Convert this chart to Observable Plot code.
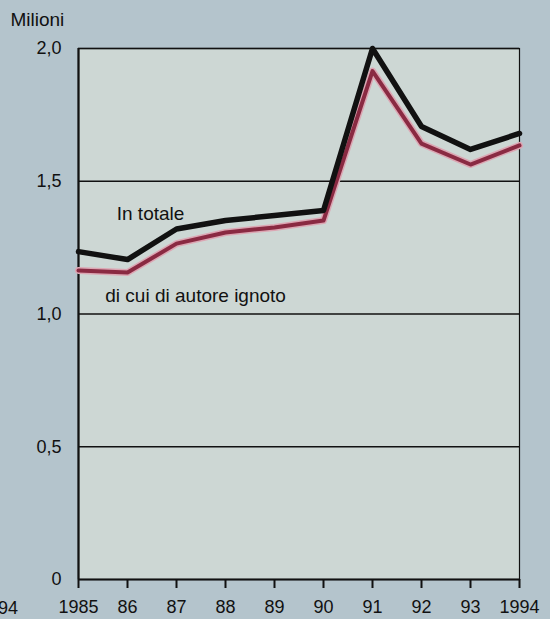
<!DOCTYPE html>
<html>
<head>
<meta charset="utf-8">
<script src="https://cdn.jsdelivr.net/npm/d3@7"></script>
<script src="https://cdn.jsdelivr.net/npm/@observablehq/plot@0.6"></script>
<style>
  html, body { margin: 0; padding: 0; background: #b4c4cc; }
  #chart { position: relative; width: 550px; height: 619px; overflow: hidden; }
  #cut { position: absolute; left: -22px; top: 598px; font: 18px "Liberation Sans", Arial, sans-serif; color: #111; }
</style>
</head>
<body>
<div id="chart"><div id="cut">1994</div></div>
<script>
const years = [1985, 1986, 1987, 1988, 1989, 1990, 1991, 1992, 1993, 1994];
const totale = [1.235, 1.205, 1.32, 1.352, 1.371, 1.39, 2.0, 1.706, 1.62, 1.68];
const ignoto = [1.164, 1.156, 1.265, 1.307, 1.326, 1.352, 1.915, 1.642, 1.563, 1.635];
const yTicks = [0, 0.5, 1, 1.5, 2];
const gridLines = [0.5, 1, 1.5, 2];
const seriesLabels = ["In totale", "di cui di autore ignoto"];
const labelX = [1986.47, 1987.39];
const labelY = [1.378, 1.07];
const unitLabel = "Milioni";

const tot = years.map((y, i) => ({year: y, v: totale[i]}));
const ign = years.map((y, i) => ({year: y, v: ignoto[i]}));
const labels = seriesLabels.map((t, i) => ({t, x: labelX[i], y: labelY[i]}));

const font = '"Liberation Sans", Arial, sans-serif';
const plot = Plot.plot({
  width: 550,
  height: 619,
  marginLeft: 78,
  marginRight: 31,
  marginTop: 48,
  marginBottom: 40,
  style: { background: "transparent", fontFamily: font, fontSize: "18px", color: "#111" },
  x: { domain: [1985, 1994] },
  y: { domain: [0, 2] },
  marks: [
    Plot.frame({ fill: "#cdd7d4", stroke: "#111", strokeWidth: 1.2 }),
    Plot.ruleY(gridLines, { stroke: "#111", strokeWidth: 1.3 }),
    Plot.ruleX([1985], { stroke: "#111", strokeWidth: 2.2 }),
    Plot.ruleY([0], { stroke: "#111", strokeWidth: 2.2 }),
    Plot.lineY(ign, { x: "year", y: "v", stroke: "#dca6b3", strokeWidth: 7 }),
    Plot.lineY(ign, { x: "year", y: "v", stroke: "#8a2a42", strokeWidth: 4 }),
    Plot.lineY(tot, { x: "year", y: "v", stroke: "#111", strokeWidth: 5.5 }),
    Plot.text(labels, { x: "x", y: "y", text: "t", fontSize: 19, fill: "#111" }),
    Plot.text([unitLabel], { frameAnchor: "top-left", dx: -68, dy: -36, textAnchor: "start", fontSize: 19, fill: "#111" }),
    Plot.axisY(yTicks, {
      tickSize: 0, tickPadding: 17, fontSize: 18,
      tickFormat: d => d3.format(".1f")(d).replace(".", ",").replace(/^0,0$/, "0")
    }),
    Plot.axisX(years, {
      tickSize: 9, tickPadding: 12, fontSize: 18, strokeWidth: 2,
      tickFormat: d => (d === 1985 || d === 1994) ? String(d) : String(d).slice(2)
    })
  ]
});
document.getElementById("chart").prepend(plot);
</script>
</body>
</html>
